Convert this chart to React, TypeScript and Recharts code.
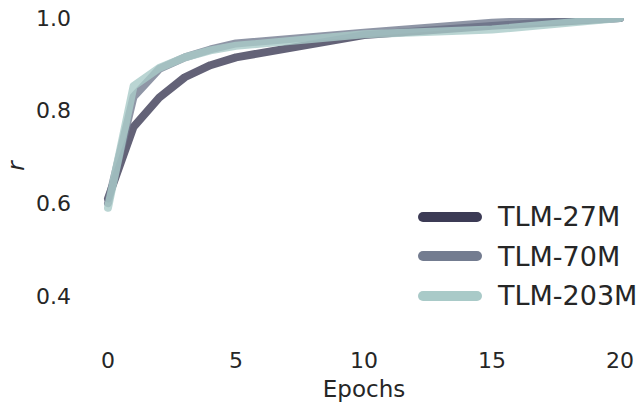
import React from "react";
import { LineChart, Line, XAxis, YAxis } from "recharts";

const epochs = [0, 1, 2, 3, 4, 5, 10, 15, 20];
const tlm27 = [0.61, 0.765, 0.828, 0.872, 0.898, 0.915, 0.963, 0.983, 1.0];
const tlm70 = [0.6, 0.83, 0.89, 0.915, 0.932, 0.945, 0.968, 0.99, 1.0];
const tlm203 = [0.59, 0.853, 0.892, 0.915, 0.93, 0.94, 0.965, 0.975, 1.0];
const xTicks = [0, 5, 10, 15, 20];
const yTicks = [0.4, 0.6, 0.8, 1.0];
const seriesNames = ["TLM-27M", "TLM-70M", "TLM-203M"];
const colors = ["#3c3b55", "#737c90", "#a9cac8"];

const data = epochs.map((e, i) => ({
  epoch: e,
  a: tlm27[i],
  b: tlm70[i],
  c: tlm203[i],
}));

const FONT = "'DejaVu Sans', sans-serif";
const TEXT = "#262626";

const LegendBox = () => (
  <div style={{ position: "absolute", left: 418, top: 197, width: 220, fontFamily: FONT }}>
    {seriesNames.map((n, i) => (
      <div key={n} style={{ display: "flex", alignItems: "center", height: 39.5 }}>
        <div
          style={{
            width: 64,
            height: 10,
            borderRadius: 5,
            background: colors[i],
            marginRight: 16,
          }}
        />
        <span style={{ fontSize: 27, color: TEXT, lineHeight: "27px" }}>{n}</span>
      </div>
    ))}
  </div>
);

const YLabel = (props: any) => {
  const vb = props.viewBox || { y: 18, height: 324 };
  const x = 24;
  const y = vb.y + vb.height / 2 - 14;
  return (
    <text
      x={x}
      y={y}
      transform={`rotate(-90, ${x}, ${y})`}
      textAnchor="middle"
      fill={TEXT}
      fontSize={23}
      fontStyle="italic"
      fontFamily={FONT}
    >
      r
    </text>
  );
};

export default function App() {
  return (
    <div style={{ position: "absolute", left: 0, top: 0, width: 638, height: 402, background: "#fff" }}>
      <LineChart
        width={638}
        height={402}
        data={data}
        margin={{ top: 18, right: 18, left: 0, bottom: 0 }}
      >
        <XAxis
          dataKey="epoch"
          type="number"
          domain={[0, 20]}
          ticks={xTicks}
          axisLine={false}
          tickLine={false}
          tickSize={0}
          tickMargin={10}
          height={60}
          tick={{ fill: TEXT, fontSize: 22, fontFamily: FONT }}
          label={{
            value: "Epochs",
            position: "insideBottom",
            offset: 5,
            fill: TEXT,
            fontSize: 23,
            fontFamily: FONT,
          }}
        />
        <YAxis
          type="number"
          domain={[0.3, 1.0]}
          ticks={yTicks}
          allowDataOverflow
          axisLine={false}
          tickLine={false}
          tickSize={0}
          tickMargin={37}
          width={108}
          tickFormatter={(v: number) => v.toFixed(1)}
          tick={{ fill: TEXT, fontSize: 22, fontFamily: FONT }}
          label={{ content: YLabel }}
        />
        {["a", "b", "c"].map((k, i) => (
          <Line
            key={k}
            dataKey={k}
            name={seriesNames[i]}
            stroke={colors[i]}
            strokeOpacity={0.8}
            strokeWidth={8}
            strokeLinecap="round"
            strokeLinejoin="round"
            dot={false}
            activeDot={false}
            isAnimationActive={false}
          />
        ))}
      </LineChart>
      <LegendBox />
    </div>
  );
}
